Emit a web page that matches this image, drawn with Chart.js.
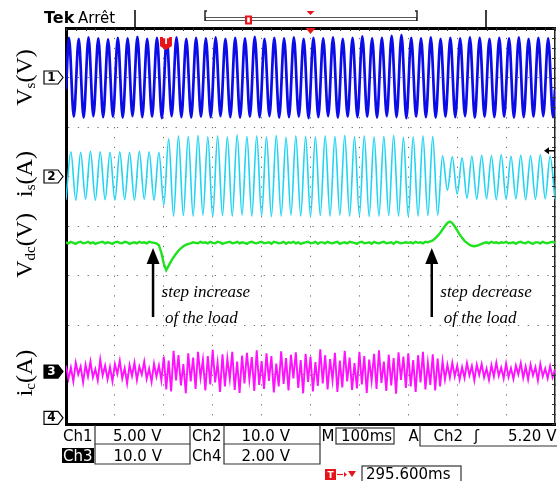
<!DOCTYPE html>
<html>
<head>
<meta charset="utf-8">
<script src="https://cdn.jsdelivr.net/npm/chart.js@4.4.1/dist/chart.umd.min.js"></script>
<style>
  html, body { margin: 0; padding: 0; background: #fff; }
</style>
</head>
<body>
<canvas id="scope" width="557" height="481"></canvas>
<script>
// ---- time base: 100 ms/div, 10 div on screen ----
const timeSpanMs = 1000;
const divMs = 100;
const sampleMs = 5;            // sample step of the dc-link and capacitor traces
const halfPeriodMs = 10;       // 50 Hz mains, one extreme every 10 ms
const vsFirstPeakMs = 6;
const isFirstPeakMs = 0;

// channel zero positions, in divisions from the bottom of the screen
const vsPos = 7.0;
const isPos = 5.0;
const vdcPos = 3.66;
const icPos = 1.06;
const ch4Pos = 0.125;

// source voltage Vs: successive extremes (div), every half period
const vsPeaks = [
  0.80,-0.79,0.78,-0.81,0.81,-0.78,0.79,-0.80,0.77,-0.79,
  0.80,-0.81,0.79,-0.78,0.82,-0.80,0.78,-0.79,0.80,-0.82,
  0.79,-0.78,0.81,-0.80,0.78,-0.81,0.80,-0.79,0.79,-0.80,
  0.81,-0.78,0.78,-0.80,0.80,-0.81,0.79,-0.79,0.82,-0.80,
  0.78,-0.78,0.80,-0.81,0.79,-0.80,0.81,-0.79,0.78,-0.82,
  0.80,-0.80,0.79,-0.78,0.81,-0.81,0.78,-0.79,0.80,-0.80,
  0.83,-0.79,0.79,-0.81,0.80,-0.78,0.84,-0.80,0.86,-0.82,
  0.80,-0.79,0.79,-0.80,0.81,-0.81,0.78,-0.79,0.80,-0.80,
  0.79,-0.78,0.81,-0.81,0.80,-0.79,0.78,-0.80,0.80,-0.79,
  0.79,-0.81,0.81,-0.80,0.78,-0.79,0.80,-0.78,0.79,-0.80
];
const vsEdges = [-0.24, -0.24];   // value at 0 ms and at 1000 ms

// source current is: successive extremes (div), every half period from 0 ms
const isPeaks = [
  -0.47,0.50,-0.48,0.49,-0.46,0.51,-0.48,0.50,-0.47,0.49,
  -0.48,0.50,-0.47,0.49,-0.48,0.51,-0.46,0.50,-0.48,0.49,
  -0.58,0.76,-0.80,0.82,-0.79,0.81,-0.80,0.83,-0.78,0.80,
  -0.81,0.82,-0.79,0.80,-0.80,0.84,-0.78,0.81,-0.80,0.82,
  -0.79,0.80,-0.81,0.83,-0.80,0.79,-0.78,0.82,-0.80,0.81,
  -0.81,0.80,-0.79,0.82,-0.80,0.81,-0.78,0.83,-0.80,0.80,
  -0.79,0.82,-0.81,0.80,-0.80,0.81,-0.79,0.83,-0.80,0.79,
  -0.81,0.80,-0.80,0.82,-0.79,0.81,-0.78,0.42,-0.28,0.40,
  -0.36,0.38,-0.44,0.41,-0.46,0.43,-0.45,0.42,-0.47,0.44,
  -0.46,0.41,-0.45,0.43,-0.47,0.42,-0.46,0.44,-0.45,0.41,
  -0.46
];

// dc-link voltage Vdc, one value per 5 ms (div)
const vdcValues = [
  0.01,-0.01,0.02,0,-0.02,0.01,0.02,-0.01,0,0.02,-0.01,0.01,-0.02,0,0.01,0.02,-0.01,0.01,0,-0.02,
  0.01,0.02,0,-0.01,0.02,0.01,-0.02,0,0.01,-0.01,0.02,0,0.01,-0.01,0.02,0.01,0,-0.01,-0.05,-0.20,
  -0.42,-0.55,-0.46,-0.37,-0.29,-0.22,-0.16,-0.11,-0.07,-0.04,-0.02,-0.01,0.01,0,-0.01,0.02,0,0.01,-0.01,0.02,
  0,-0.01,0.02,0.01,-0.02,0,0.01,0.02,-0.01,0,0.02,-0.01,0.01,0,-0.02,0.01,0.02,0,-0.01,0.01,
  0.02,-0.01,0,0.01,-0.02,0.02,0.01,-0.01,0,0.02,-0.02,0.01,0,0.02,-0.01,0.01,-0.02,0,0.01,0.02,
  -0.01,0,0.02,-0.02,0.01,0.01,-0.01,0.02,0,-0.01,0.01,0.02,-0.02,0,0.01,-0.01,0.02,0.01,0,-0.02,
  0.01,0.02,-0.01,0,0.01,-0.02,0.02,0,-0.01,0.01,0.02,-0.01,0,0.01,-0.02,0.02,0.01,-0.01,0,0.01,
  0,0.01,-0.01,0.02,0,0.01,-0.01,0.02,0.01,0.03,0.05,0.09,0.14,0.20,0.27,0.34,0.40,0.43,0.40,0.33,
  0.25,0.17,0.10,0.04,0,-0.04,-0.06,-0.07,-0.06,-0.04,-0.02,0,0.01,-0.01,0.02,0,0.01,-0.01,0.01,0,
  0.02,-0.01,0,0.01,-0.02,0.01,0.02,0,-0.01,0.02,0,-0.02,0.01,0.01,-0.01,0.02,0,-0.01,0.01,0.02,
  0
];

// capacitor current ic, one value per 5 ms (div)
const icValues = [
  0.12,-0.15,0.08,-0.20,0.18,-0.06,0.10,-0.22,0.14,-0.10,0.20,-0.12,0.05,-0.18,0.24,-0.08,0.12,-0.16,0.09,-0.20,
  0.15,-0.05,0.22,-0.14,0.07,-0.24,0.13,-0.09,0.18,-0.17,0.10,-0.06,0.20,-0.15,0.06,-0.21,0.16,-0.10,0.12,-0.18,
  0.30,-0.36,0.22,-0.40,0.42,-0.18,0.33,-0.28,0.15,-0.44,0.37,-0.20,0.28,-0.35,0.40,-0.12,0.24,-0.38,0.31,-0.26,
  0.44,-0.22,0.18,-0.41,0.35,-0.30,0.26,-0.15,0.40,-0.37,0.20,-0.43,0.32,-0.24,0.38,-0.16,0.29,-0.39,0.43,-0.27,
  0.21,-0.35,0.37,-0.19,0.31,-0.42,0.16,-0.30,0.41,-0.25,0.27,-0.38,0.34,-0.14,0.39,-0.33,0.23,-0.44,0.36,-0.21,
  0.30,-0.40,0.19,-0.29,0.45,-0.24,0.33,-0.36,0.25,-0.18,0.38,-0.41,0.22,-0.32,0.42,-0.20,0.28,-0.37,0.17,-0.34,
  0.40,-0.26,0.31,-0.43,0.24,-0.19,0.36,-0.35,0.43,-0.23,0.20,-0.39,0.34,-0.28,0.27,-0.45,0.39,-0.17,0.30,-0.33,
  0.37,-0.30,0.23,-0.41,0.33,-0.22,0.40,-0.36,0.18,-0.27,0.35,-0.38,0.26,-0.30,0.21,-0.16,0.14,-0.12,0.18,-0.10,
  0.12,-0.16,0.09,-0.13,0.17,-0.08,0.11,-0.18,0.14,-0.07,0.15,-0.12,0.06,-0.17,0.13,-0.10,0.18,-0.09,0.08,-0.14,
  0.16,-0.11,0.07,-0.15,0.12,-0.06,0.17,-0.13,0.10,-0.16,0.14,-0.08,0.09,-0.18,0.15,-0.10,0.06,-0.14,0.11,-0.12,
  0.05
];

// scope settings shown in the status lines
const trigToCenterMs = 295.6;
const trigLevelV = 5.2;
const ch2VoltsPerDiv = 10;
const notes = [
  { t: 178, lines: ['step increase', 'of the load'] },
  { t: 748, lines: ['step decrease', 'of the load'] }
];

// ---- build datasets ----
const vsData = [{ x: 0, y: vsPos + vsEdges[0] }];
vsPeaks.forEach((v, i) => vsData.push({ x: vsFirstPeakMs + i * halfPeriodMs, y: vsPos + v }));
vsData.push({ x: timeSpanMs, y: vsPos + vsEdges[1] });

const isData = isPeaks.map((v, i) => ({ x: isFirstPeakMs + i * halfPeriodMs, y: isPos + v }));
const vdcData = vdcValues.map((v, i) => ({ x: i * sampleMs, y: vdcPos + v }));
const icData = icValues.map((v, i) => ({ x: i * sampleMs, y: icPos + v }));

// graticule marks, status text and annotations
const scopeDecor = {
  id: 'scopeDecor',
  afterDraw(chart) {
    const { ctx, chartArea: a } = chart;
    const xs = chart.scales.x, ys = chart.scales.y;
    ctx.save();

    // small ticks along top and right edges, every 1/5 division
    ctx.strokeStyle = '#333';
    ctx.lineWidth = 1;
    ctx.beginPath();
    for (let t = 0; t <= timeSpanMs; t += divMs / 5) {
      const px = Math.round(xs.getPixelForValue(t)) + 0.5;
      ctx.moveTo(px, a.top); ctx.lineTo(px, a.top + 3);
    }
    for (let d = 0; d <= 40; d++) {
      const py = Math.round(ys.getPixelForValue(d / 5)) + 0.5;
      ctx.moveTo(a.right, py); ctx.lineTo(a.right - 3, py);
    }
    ctx.stroke();

    // rotated channel names
    function rotLabel(main, sub, tail, pos) {
      const cy = ys.getPixelForValue(pos);
      ctx.save();
      ctx.translate(32, cy);
      ctx.rotate(-Math.PI / 2);
      const big = '24px "Liberation Serif"', small = '15px "Liberation Serif"';
      ctx.font = big;
      const w1 = ctx.measureText(main).width, w3 = ctx.measureText(tail).width;
      ctx.font = small;
      const w2 = ctx.measureText(sub).width;
      let sx = -(w1 + w2 + w3) / 2;
      ctx.fillStyle = '#000';
      ctx.textAlign = 'left';
      ctx.textBaseline = 'alphabetic';
      ctx.font = big; ctx.fillText(main, sx, 0); sx += w1;
      ctx.font = small; ctx.fillText(sub, sx, 3); sx += w2;
      ctx.font = big; ctx.fillText(tail, sx, 0);
      ctx.restore();
    }
    rotLabel('V', 's', '(V)', vsPos);
    rotLabel('i', 's', '(A)', isPos + 0.05);
    rotLabel('V', 'dc', '(V)', vdcPos - 0.05);
    rotLabel('i', 'c', '(A)', icPos - 0.03);

    // channel ground markers
    function chMarker(label, pos, filled) {
      const py = ys.getPixelForValue(pos);
      const l = 44, r = 58, tip = 63, h = 6.5;
      ctx.beginPath();
      ctx.moveTo(l, py - h); ctx.lineTo(r, py - h); ctx.lineTo(tip, py);
      ctx.lineTo(r, py + h); ctx.lineTo(l, py + h); ctx.closePath();
      ctx.fillStyle = filled ? '#000' : '#fff';
      ctx.fill();
      ctx.lineWidth = 1.2; ctx.strokeStyle = '#000'; ctx.stroke();
      ctx.fillStyle = filled ? '#fff' : '#000';
      ctx.font = 'bold 12px "DejaVu Sans"';
      ctx.textAlign = 'center'; ctx.textBaseline = 'middle';
      ctx.fillText(label, (l + r) / 2 + 0.5, py + 0.5);
    }
    chMarker('1', vsPos, false);
    chMarker('2', isPos, false);
    chMarker('3', icPos, true);
    chMarker('4', ch4Pos, false);

    // trigger level arrow on the right edge
    const ty = ys.getPixelForValue(isPos + trigLevelV / ch2VoltsPerDiv);
    ctx.strokeStyle = '#000'; ctx.fillStyle = '#000'; ctx.lineWidth = 1.5;
    ctx.beginPath(); ctx.moveTo(a.right, ty); ctx.lineTo(a.right - 8, ty); ctx.stroke();
    ctx.beginPath(); ctx.moveTo(a.right - 11, ty); ctx.lineTo(a.right - 6, ty - 3.5); ctx.lineTo(a.right - 6, ty + 3.5); ctx.closePath(); ctx.fill();

    // trigger position marker and center marker
    const trigX = xs.getPixelForValue(timeSpanMs / 2 - trigToCenterMs);
    ctx.fillStyle = '#e8141c';
    ctx.beginPath();
    ctx.moveTo(trigX - 6, 37); ctx.lineTo(trigX + 6, 37); ctx.lineTo(trigX + 6, 46);
    ctx.lineTo(trigX, 50); ctx.lineTo(trigX - 6, 46); ctx.closePath(); ctx.fill();
    ctx.fillStyle = '#fff'; ctx.font = 'bold 9px "DejaVu Sans"';
    ctx.textAlign = 'center'; ctx.textBaseline = 'middle';
    ctx.fillText('T', trigX, 42);
    const cx = xs.getPixelForValue(timeSpanMs / 2);
    ctx.fillStyle = '#e8141c';
    ctx.beginPath(); ctx.moveTo(cx - 5, a.top); ctx.lineTo(cx + 5, a.top); ctx.lineTo(cx, a.top + 6); ctx.closePath(); ctx.fill();

    // annotations with arrows
    notes.forEach(n => {
      const ax = xs.getPixelForValue(n.t);
      const tip = 248, tail = 317;
      ctx.strokeStyle = '#000'; ctx.fillStyle = '#000'; ctx.lineWidth = 2.5;
      ctx.beginPath(); ctx.moveTo(ax, tail); ctx.lineTo(ax, tip + 10); ctx.stroke();
      ctx.beginPath(); ctx.moveTo(ax, tip); ctx.lineTo(ax - 6.5, tip + 16); ctx.lineTo(ax + 6.5, tip + 16); ctx.closePath(); ctx.fill();
      ctx.font = 'italic 17px "Liberation Serif"';
      ctx.textAlign = 'left'; ctx.textBaseline = 'alphabetic';
      ctx.fillText(n.lines[0], ax + 8.5, 297);
      ctx.fillText(n.lines[1], ax + 12, 323);
    });

    // header line
    ctx.fillStyle = '#000';
    ctx.textAlign = 'left'; ctx.textBaseline = 'alphabetic';
    ctx.font = 'bold 16px "DejaVu Sans"';
    ctx.fillText('Tek', 44, 23);
    ctx.font = '15px "DejaVu Sans"';
    ctx.fillText('Arrêt', 78, 23);
    ctx.lineWidth = 1.5; ctx.strokeStyle = '#000';
    ctx.beginPath();
    ctx.moveTo(135, 10); ctx.lineTo(135, 27);
    ctx.moveTo(486, 10); ctx.lineTo(486, 27);
    ctx.stroke();
    ctx.lineWidth = 1; ctx.strokeStyle = '#555';
    ctx.strokeRect(205.5, 17.5, 211, 3);
    ctx.lineWidth = 1.5; ctx.strokeStyle = '#222';
    ctx.beginPath();
    ctx.moveTo(207, 11); ctx.lineTo(205, 11); ctx.lineTo(205, 21);
    ctx.moveTo(415, 11); ctx.lineTo(417, 11); ctx.lineTo(417, 21);
    ctx.stroke();
    ctx.fillStyle = '#e8141c';
    ctx.fillRect(245, 15.5, 7, 9);
    ctx.fillStyle = '#fff';
    ctx.fillRect(247.2, 17.5, 2.6, 5);
    ctx.fillStyle = '#e8141c';
    ctx.beginPath(); ctx.moveTo(cx - 4, 11); ctx.lineTo(cx + 4, 11); ctx.lineTo(cx, 15); ctx.closePath(); ctx.fill();

    // status lines
    const f = '15px "DejaVu Sans"';
    ctx.font = f; ctx.fillStyle = '#000';
    ctx.strokeStyle = '#333'; ctx.lineWidth = 1.2;
    function txt(s, x, y) { ctx.fillText(s, x, y); }
    function box3(l, r, t, b) {
      ctx.beginPath(); ctx.moveTo(l, t); ctx.lineTo(l, b); ctx.lineTo(r, b); ctx.lineTo(r, t); ctx.stroke();
    }
    const r1 = 441, r2 = 460.5, r3 = 479;
    txt('Ch1', 63, r1);  box3(95, 190, 425, 444); txt('5.00 V', 113, r1);
    txt('Ch2', 192, r1); box3(224, 320, 425, 444); txt('10.0 V', 241.5, r1);
    txt('M', 321.5, r1); ctx.strokeRect(336, 428, 58, 16); txt('100ms', 341, r1);
    txt('A', 408.5, r1);
    ctx.beginPath(); ctx.moveTo(420, 425); ctx.lineTo(420, 446); ctx.lineTo(557, 446); ctx.stroke();
    txt('Ch2', 433.5, r1); txt('ʃ', 474, r1); txt('5.20 V', 508, r1);
    ctx.fillRect(62, 448, 32, 15);
    ctx.fillStyle = '#fff'; txt('Ch3', 63, r2); ctx.fillStyle = '#000';
    box3(95, 190, 444, 464); txt('10.0 V', 113.5, r2);
    txt('Ch4', 192, r2); box3(224, 320, 444, 464); txt('2.00 V', 241.5, r2);
    ctx.strokeRect(362, 466, 99, 18); txt('295.600ms', 366, r3);
    ctx.fillStyle = '#e8141c';
    ctx.fillRect(325, 469, 11, 11);
    ctx.fillStyle = '#fff'; ctx.font = 'bold 9px "DejaVu Sans"'; ctx.textAlign = 'center';
    ctx.fillText('T', 330.5, 478);
    ctx.fillStyle = '#e8141c'; ctx.strokeStyle = '#e8141c'; ctx.lineWidth = 1.2;
    ctx.beginPath(); ctx.moveTo(337, 474.5); ctx.lineTo(343, 474.5); ctx.stroke();
    ctx.beginPath(); ctx.moveTo(344, 472); ctx.lineTo(344, 477); ctx.lineTo(347, 474.5); ctx.closePath(); ctx.fill();
    ctx.beginPath(); ctx.moveTo(348, 471); ctx.lineTo(356, 471); ctx.lineTo(352, 477); ctx.closePath(); ctx.fill();

    ctx.restore();
  }
};

const dotted = '#707070';
new Chart(document.getElementById('scope'), {
  type: 'line',
  data: {
    datasets: [
      { label: 'Vs', data: vsData, borderColor: '#0c0ce8', borderWidth: 2.7, cubicInterpolationMode: 'monotone' },
      { label: 'is', data: isData, borderColor: '#22d3f2', borderWidth: 1.6, cubicInterpolationMode: 'monotone' },
      { label: 'Vdc', data: vdcData, borderColor: '#1ee21e', borderWidth: 2.4, tension: 0 },
      { label: 'ic', data: icData, borderColor: '#ff10ff', borderWidth: 1.9, tension: 0 }
    ]
  },
  options: {
    responsive: false,
    animation: false,
    layout: { padding: { left: 66, top: 28, right: 2, bottom: 57 } },
    elements: { point: { radius: 0 } },
    plugins: { legend: { display: false }, tooltip: { enabled: false } },
    scales: {
      x: {
        type: 'linear', min: 0, max: timeSpanMs,
        ticks: { display: false, stepSize: divMs },
        grid: { color: dotted, lineWidth: 1, drawTicks: false },
        border: { color: '#000', width: 3, dash: [1.3, 8.6] }
      },
      xTop: {
        type: 'linear', position: 'top', min: 0, max: timeSpanMs,
        ticks: { display: false }, grid: { display: false, drawTicks: false },
        border: { color: '#000', width: 3 }
      },
      y: {
        type: 'linear', min: 0, max: 8,
        ticks: { display: false, stepSize: 1 },
        grid: { color: dotted, lineWidth: 1, drawTicks: false },
        border: { color: '#000', width: 3, dash: [1.3, 8.48] }
      },
      yRight: {
        type: 'linear', position: 'right', min: 0, max: 8,
        ticks: { display: false }, grid: { display: false, drawTicks: false },
        border: { color: '#222', width: 1.5 }
      }
    }
  },
  plugins: [scopeDecor]
});
</script>
</body>
</html>
